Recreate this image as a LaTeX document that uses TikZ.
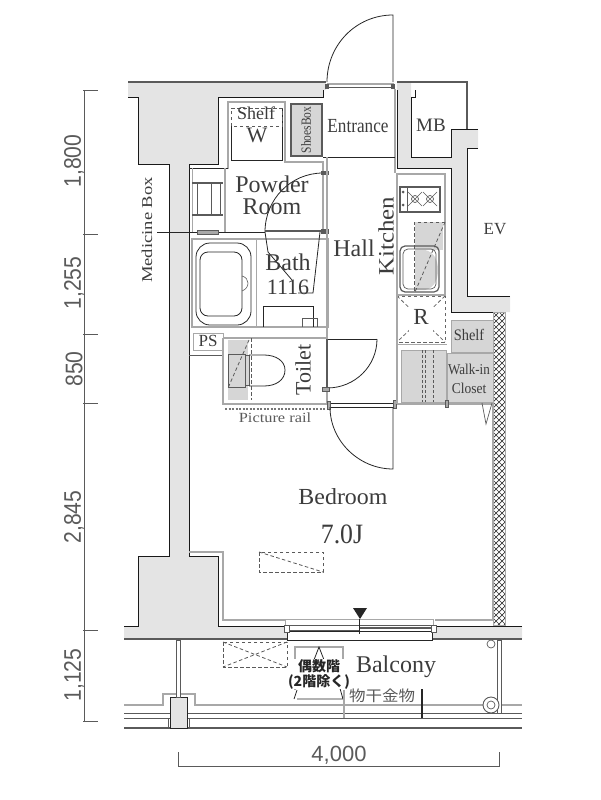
\documentclass[tikz,border=0pt]{standalone}
\usepackage{fontspec}
\setmainfont{Liberation Serif}
\setsansfont{Liberation Sans}
\newfontfamily\cjkfont{Noto Sans CJK JP}
\usetikzlibrary{positioning}

\definecolor{wallgray}{HTML}{E4E4E4}
\definecolor{roomgray}{HTML}{D6D6D6}
\definecolor{linegray}{HTML}{A8A8A8}
\definecolor{darkline}{HTML}{5A5A5A}
\definecolor{inkgray}{HTML}{3C3C3C}

\tikzset{
    wallline/.style={line width=1pt, color=black!90},
    softline/.style={line width=1.5pt, color=linegray},
    heavyline/.style={line width=1.8pt, color=darkline},
    thinline/.style={line width=0.8pt, color=black!85},
    dashline/.style={line width=0.8pt, color=darkline, dashed, dash pattern=on 3.5pt off 2.5pt},
    roomlabel/.style={inner sep=0pt, text=inkgray},
    dimlabel/.style={inner sep=0pt, text=darkline, font=\sffamily\fontsize{24}{24}\selectfont},
}

% horizontal stretch of a label
\newcommand{\wide}[2]{\scalebox{#1}[1]{#2}}
% font size shortcut
\newcommand{\fs}[1]{\fontsize{#1}{#1}\selectfont}

\begin{document}
\begin{tikzpicture}[x=1pt, y=-1pt]
    \useasboundingbox (0,0) rectangle (600,800);

    % -- Concrete walls --
    \fill[wallgray] (128,82) -- (326,82) -- (326,90) -- (323,90) -- (323,97) -- (218,97) -- (218,164)
        -- (189,164) -- (189,556) -- (218,556) -- (218,626) -- (288,626) -- (288,639) -- (124,639)
        -- (124,626) -- (138,626) -- (138,556) -- (169,556) -- (169,164) -- (138,164) -- (138,97)
        -- (128,97) -- cycle;
    \fill[wallgray] (397,82) -- (411,82) -- (411,157) -- (451,157) -- (451,129) -- (478,129) -- (478,148)
        -- (467,148) -- (467,296) -- (510,296) -- (510,312) -- (451,312) -- (451,168) -- (397,168) -- cycle;
    \fill[wallgray] (435,626) -- (522,626) -- (522,639) -- (432,639) -- cycle;

    \draw[wallline] (128,97) -- (138,97) -- (138,164) -- (169,164) -- (169,556) -- (138,556) -- (138,626) -- (124,626);
    \draw[wallline] (323,90) -- (323,97) -- (218,97) -- (218,164) -- (189,164) -- (189,556) -- (218,556) -- (218,626) -- (287,626);
    \draw[wallline] (397,90) -- (397,168) -- (451,168) -- (451,312) -- (493,312);
    \draw[wallline] (415,90) -- (415,97) -- (411,97) -- (411,157) -- (451,157) -- (451,129) -- (460,129);
    \draw[wallline] (460,129) -- (478,129);
    \draw[wallline] (478,148) -- (467,148) -- (467,296) -- (510,296);
    \draw[wallline] (435,626) -- (522,626);
    \draw[heavyline] (128,82) -- (326,82);
    \draw[heavyline] (397,82) -- (467,82) -- (467,129);
    \draw[heavyline, line width=1.3pt] (124,639) -- (288,639);
    \draw[heavyline, line width=1.3pt] (432,639) -- (522,639);
    \draw[softline] (189,552) -- (223,552) -- (223,620) -- (285,620);
    \draw[softline] (435,620) -- (493,620) -- (493,404);

    % -- Entrance and its door --
    \draw[softline] (327,84) -- (394,84);
    \draw[thinline, color=darkline] (327,87) -- (394,87);
    \draw[thinline] (393,82) -- (393,15) .. controls (356,15) and (327,45) .. (327,82);
    \fill[darkline] (325,84) rectangle (329,89);
    \fill[darkline] (391,84) rectangle (395,89);
    \draw[softline] (395,89) -- (395,173);
    \draw[thinline] (323,157) -- (395,157);
    \node[roomlabel, font=\fs{20}] (entrance) at (358,126) {\wide{0.86}{Entrance}};
    \node[roomlabel, font=\fs{19}] (mb) at (431,125) {MB};
    \node[roomlabel, font=\fs{17}] (ev) at (495,229) {EV};

    % -- Closet W and shoe box --
    \draw[softline] (228,169) -- (228,102) -- (285,102) -- (285,162) -- (323,162) -- (323,232);
    \draw[thinline] (231,126) -- (231,160) -- (282,160) -- (282,108);
    \draw[dashline] (231,126) -- (231,108) -- (282,108) -- (282,126) -- cycle;
    \node[roomlabel, font=\fs{18}] (shelfw) at (256,113) {Shelf};
    \node[roomlabel, font=\fs{22}] (w) at (257,135) {W};
    \draw[heavyline, fill=roomgray] (291,104) rectangle (322,156);
    \node[roomlabel, rotate=90, font=\fs{14}] (shoes) at (306,130) {\wide{0.82}{ShoesBox}};

    % -- Powder room --
    \draw[thinline] (189,168) -- (228,168);
    \draw[softline, line width=1pt] (192,168) -- (192,232);
    \draw[softline] (225,168) -- (225,232);
    \draw[heavyline, line width=1.1pt] (192,183) -- (223,183);
    \draw[heavyline, line width=1.1pt] (192,215) -- (223,215);
    \foreach \xpos in {197,211,220} {
        \draw[darkline, line width=0.7pt] (\xpos,183) -- (\xpos,215);
    }
    \draw[thinline] (323,173) .. controls (291,173) and (265,199) .. (265,232);
    \fill[darkline] (321,171) rectangle (329,175);
    \draw[thinline] (189,232) -- (265,232);
    \draw[heavyline, line width=2pt] (265,231) -- (325,231);
    \fill[darkline] (321,229) rectangle (329,234);
    \node[roomlabel, align=center, font=\fs{24}] (powder) at (272,184) {Powder};
    \node[roomlabel, font=\fs{24}] (room) at (272,207) {Room};

    % -- Medicine box --
    \draw[thinline] (157,232) -- (197,232);
    \draw[darkline, fill=linegray, line width=0.5pt] (197,230) rectangle (218,234);
    \node[roomlabel, rotate=90, font=\fs{15}] (medicine) at (147,230) {\wide{1.24}{Medicine Box}};

    % -- Bath --
    \draw[softline] (192,239) rectangle (328,327);
    \draw[softline, line width=1pt] (256,239) -- (256,327);
    \draw[thinline, rounded corners=14pt] (196,243) -- (251,243) -- (251,325) -- (196,325) -- cycle;
    \draw[thinline, rounded corners=8pt] (200,252) -- (242,252) -- (242,316) -- (200,316) -- cycle;
    \draw[darkline, line width=0.6pt] (242,276) .. controls (250,278) and (250,288) .. (242,291);
    \draw[thinline] (265,232) -- (268,252) -- (292,280);
    \draw[thinline] (320,232) -- (313,293) -- (298,293);
    \draw[thinline] (263,327) -- (263,306) -- (313,306) -- (313,327);
    \draw[darkline, line width=0.6pt] (302,327) -- (302,318) -- (317,318) -- (317,327);
    \draw[softline] (327,157) -- (327,403);
    \node[roomlabel, font=\fs{24}] (bath) at (288,262) {Bath};
    \node[roomlabel, font=\fs{22}] (bathsize) at (288,287) {1116};

    % -- PS and toilet --
    \draw[softline, line width=1pt] (193,333) rectangle (223,350);
    \node[roomlabel, font=\fs{17}] (ps) at (208,341) {PS};
    \draw[thinline, color=darkline] (189,355) -- (223,355);
    \draw[softline] (223,338) -- (223,404) -- (327,404);
    \draw[softline] (223,338) -- (327,338);
    \fill[roomgray] (228,340) rectangle (248,400);
    \draw[darkline, line width=0.7pt] (228,354) rectangle (245,387);
    \draw[darkline, fill=roomgray, line width=0.5pt] (245,355) rectangle (249,385);
    \draw[thinline] (249,355) -- (264,355) .. controls (276,355) and (285,361) .. (285,370)
        .. controls (285,380) and (276,386) .. (264,386) -- (249,386);
    \draw[dashline] (251,338) -- (251,400);
    \draw[dashline] (249,340) -- (228,388);
    \draw[dashline, line width=1.2pt, dash pattern=on 2pt off 1.5pt, color=linegray!70!black] (225,409) -- (325,409);
    \node[roomlabel, rotate=90, font=\fs{22}] (toilet) at (303,370) {Toilet};
    \node[roomlabel, text=darkline, font=\fs{14}] (rail) at (275,418) {\wide{1.17}{Picture rail}};

    % toilet door
    \draw[thinline] (377,339) -- (327,339);
    \draw[heavyline, line width=1.2pt] (327,339) -- (327,388);
    \draw[thinline] (377,339) .. controls (377,366) and (355,388) .. (327,388);
    \draw[darkline, fill=linegray, line width=0.4pt] (322,387) rectangle (329,391);

    % -- Hall and bedroom door --
    \node[roomlabel, font=\fs{24}] (hall) at (354,248) {Hall};
    \draw[thinline] (330,403) -- (394,403);
    \draw[thinline] (330,407) -- (394,407);
    \draw[darkline, fill=linegray, line width=0.4pt] (327,401) rectangle (330,409);
    \draw[darkline, fill=linegray, line width=0.4pt] (393,400) rectangle (396,408);
    \draw[thinline] (393,407) -- (393,469) .. controls (359,469) and (330,441) .. (330,407);

    % -- Kitchen --
    \draw[softline] (397,174) -- (445,174) -- (445,295) -- (397,295) -- cycle;
    \draw[darkline, fill=white, line width=1.1pt] (400,187) rectangle (440,212);
    \foreach \xpos in {415,430} {
        \draw[darkline, line width=0.6pt] (\xpos-7,192) -- (\xpos+7,206) (\xpos-7,206) -- (\xpos+7,192);
        \draw[darkline, line width=0.7pt] (\xpos,199) circle (3.5pt);
    }
    \draw[darkline, line width=0.8pt] (407,187) -- (407,212);
    \foreach \ypos in {192,205} {
        \fill[darkline] (403,\ypos) circle (1.5pt);
    }
    \fill[roomgray] (415,222) rectangle (443,250);
    \fill[roomgray] (415,250) -- (425,250) .. controls (434,252) and (438,260) .. (438,270)
        .. controls (438,280) and (434,288) .. (425,290) -- (415,290) -- cycle;
    \draw[darkline, line width=1.2pt, rounded corners=5pt] (400,246) rectangle (439,292);
    \draw[darkline, line width=0.7pt, rounded corners=5pt] (403,249) rectangle (436,289);
    \draw[dashline] (445,222) -- (414,222) -- (414,292);
    \draw[dashline] (445,222) -- (415,292);
    \node[roomlabel, rotate=90, font=\fs{22}] (kitchen) at (386,236) {\wide{1.13}{Kitchen}};

    % fridge space
    \draw[dashline, color=linegray!60!black] (397,296) rectangle (445,342);
    \draw[dashline, color=linegray!60!black] (397,296) -- (445,342) (445,296) -- (397,342);
    \fill[white] (409,304) rectangle (433,332);
    \node[roomlabel, font=\fs{23}] (fridge) at (421,317) {R};
    \draw[softline] (397,295) -- (397,404);
    \draw[softline, line width=1pt] (397,344) -- (447,344);

    % -- Walk-in closet --
    \draw[linegray, line width=1pt, fill=roomgray] (401,350) rectangle (446,402);
    \foreach \xpos in {422,425,433} {
        \draw[darkline, line width=0.7pt, dash pattern=on 3pt off 2pt] (\xpos,350) -- (\xpos,402);
    }
    \draw[linegray, line width=1pt, fill=roomgray] (451,320) rectangle (493,352);
    \draw[linegray, line width=1pt, fill=roomgray] (447,353) rectangle (493,402);
    \draw[softline] (397,404) -- (493,404);
    \draw[darkline, fill=linegray, line width=0.4pt] (445,400) rectangle (448,407);
    \draw[darkline, line width=0.7pt] (482,403) -- (486,424) -- (492,403);
    \node[roomlabel, font=\fs{16}] (shelfb) at (469,335) {\wide{0.9}{Shelf}};
    \node[roomlabel, font=\fs{15}] (walkin) at (469,369) {\wide{0.87}{Walk-in}};
    \node[roomlabel, font=\fs{15}] (closet) at (469,388) {\wide{0.9}{Closet}};

    % -- Lattice on the right side --
    \begin{scope}
        \clip (493,312) rectangle (505,625);
        \foreach \k in {0,6,...,324} {
            \draw[black!80, line width=0.7pt] (493,300+\k) -- (505,312+\k) (505,300+\k) -- (493,312+\k);
        }
    \end{scope}
    \draw[linegray, line width=1pt] (493,312) rectangle (505,625);

    % -- Bedroom --
    \node[roomlabel, font=\fs{23}] (bedroom) at (343,497) {\wide{1.04}{Bedroom}};
    \node[roomlabel, font=\fs{28}] (tatami) at (342,534) {\wide{0.92}{7.0J}};
    \draw[dashline] (259,552) rectangle (323,572);
    \draw[dashline] (259,552) -- (323,572);

    % -- Window --
    \draw[softline, line width=1pt] (285,625) -- (285,619) -- (433,619) -- (433,625);
    \draw[darkline, line width=1pt] (287,625) -- (433,625);
    \draw[darkline, line width=1pt] (287,630) -- (359,630);
    \draw[darkline, line width=1.4pt] (359,628) -- (433,628);
    \draw[thinline, fill=white] (287,631) rectangle (432,640);
    \draw[darkline, fill=white, line width=0.5pt] (284,625) rectangle (289,632);
    \draw[darkline, fill=white, line width=0.5pt] (431,625) rectangle (436,632);
    \draw[thinline] (359,619) -- (359,634);
    \fill[black!85] (353,608) -- (367,608) -- (360,619) -- cycle;

    % -- Balcony --
    \draw[softline] (124,705) -- (163,705) -- (163,694) -- (195,694) -- (195,705) -- (522,705);
    \foreach \ypos in {713,718} {
        \draw[heavyline, line width=1pt] (124,\ypos) -- (170,\ypos);
        \draw[heavyline, line width=1pt] (187,\ypos) -- (522,\ypos);
    }
    \draw[heavyline, line width=1.6pt] (124,728) -- (522,728);
    \draw[heavyline, line width=1pt] (168,718) -- (168,728);
    \draw[heavyline, line width=1pt] (189,718) -- (189,728);
    \draw[thinline, fill=wallgray] (170,697) rectangle (187,728);
    \draw[darkline, fill=white, line width=0.7pt] (176.5,640) rectangle (180.5,697);
    \draw[darkline, fill=white, line width=0.7pt] (497,640) rectangle (501,713);
    \draw[darkline, fill=white, line width=0.7pt] (491,644) circle (4pt);
    \draw[darkline, fill=white, line width=0.9pt] (491,705) circle (8pt);
    \draw[darkline, line width=0.7pt] (491,705) circle (4pt);
    \draw[dashline] (223,642) rectangle (287,667);
    \draw[dashline] (223,642) -- (287,667) (287,642) -- (223,667);

    % escape hatch
    \draw[softline, line width=1.1pt] (295,690) -- (295,647) -- (343,647) -- (343,684);
    \draw[thinline] (294,699) -- (297,690) (297,699) -- (343,699) -- (339,685);
    \draw[thinline] (312,665) -- (319,647) -- (326,665);
    \node[inner sep=0.5pt, fill=white, align=center, text=black!85, font=\cjkfont\bfseries\fs{14}] (hatch) at (319,674)
        {偶数階\\[1pt](2階除く)};
    \draw[softline] (344,690) -- (344,718);
    \draw[line width=1.2pt, black!85] (422,689) -- (422,718);
    \node[roomlabel, text=darkline, font=\cjkfont\fs{15}] (hardware) at (382,696) {\wide{1.1}{物干金物}};
    \node[roomlabel, font=\fs{24}] (balcony) at (396,667) {Balcony};

    % -- Dimensions on the left --
    \draw[heavyline, line width=0.9pt] (84,90) -- (84,721);
    \foreach \ypos in {90,234,334,403,630,721} {
        \draw[heavyline, line width=0.9pt] (83,\ypos) -- (98,\ypos);
    }
    \foreach \ypos/\lab/\name in {161/{1,800}/dimA, 283/{1,255}/dimB, 369/{850}/dimC, 517/{2,845}/dimD, 675/{1,125}/dimE} {
        \node[dimlabel, rotate=90] (\name) at (74,\ypos) {\wide{0.88}{\lab}};
    }

    % -- Dimension at the bottom --
    \draw[heavyline, line width=0.9pt] (178,752) -- (178,766) -- (499,766) -- (499,752);
    \node[dimlabel, font=\sffamily\fs{22}] (dimF) at (339,755) {4,000};
\end{tikzpicture}
\end{document}
